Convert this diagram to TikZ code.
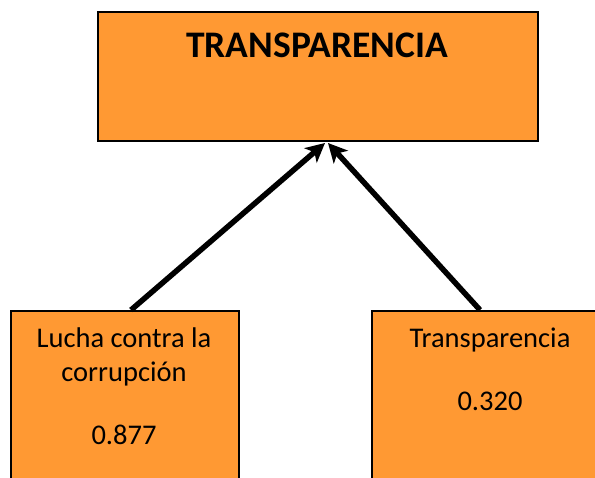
\documentclass[tikz,border=0pt]{standalone}
\usepackage{fontspec}
\setmainfont{Carlito}
\usetikzlibrary{arrows.meta}
\definecolor{boxorange}{RGB}{255,153,51}
\tikzset{
  obox/.style={draw=black, line width=2pt, fill=boxorange, inner sep=0pt},
  lbl/.style={inner sep=0pt, anchor=base, font=\fontsize{28.5}{34}\selectfont},
  conn/.style={line width=5.5pt, -{Stealth[length=19pt,width=19pt,inset=5pt]}}
}
\begin{document}
\begin{tikzpicture}[x=1pt,y=-1pt]
\useasboundingbox (0,0) rectangle (595,478);
\clip (0,0) rectangle (595,478);
\node[obox, minimum width=440pt, minimum height=129pt] (top) at (318,76.5) {};
\node[inner sep=0pt, anchor=base, font=\fontsize{37.5}{40}\selectfont\bfseries] (title) at (317,58) {TRANSPARENCIA};
\node[obox, minimum width=228pt, minimum height=200pt, anchor=north west] (lbox) at (10,310) {};
\node[obox, minimum width=240pt, minimum height=200pt, anchor=north west] (rbox) at (371,310) {};
\node[lbl] (l1) at (124,348) {Lucha contra la};
\node[lbl] (l2) at (124,382) {corrupción};
\node[lbl] (l3) at (124,445) {0.877};
\node[lbl] (r1) at (490,348) {Transparencia};
\node[lbl] (r2) at (490,411) {0.320};
\coordinate (lstart) at ([xshift=6pt]lbox.north);
\coordinate (rstart) at ([xshift=-12pt]rbox.north);
\draw[conn] (lstart) -- ([xshift=7pt,yshift=-1pt]top.south);
\draw[conn] (rstart) -- ([xshift=10pt,yshift=-1pt]top.south);
\end{tikzpicture}
\end{document}
